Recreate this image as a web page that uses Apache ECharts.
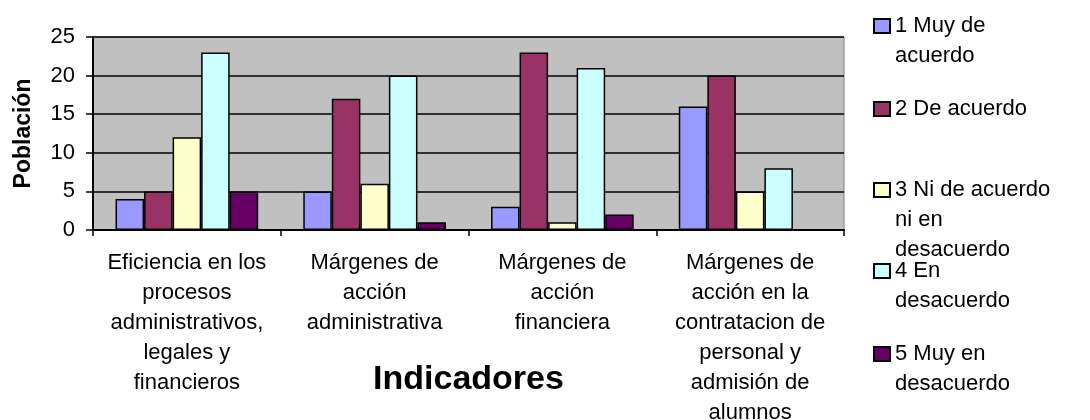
<!DOCTYPE html>
<html>
<head>
<meta charset="utf-8">
<script src="https://cdn.jsdelivr.net/npm/echarts@6/dist/echarts.min.js"></script>
<style>
  html, body { margin: 0; padding: 0; background: #fff; }
  #chart { width: 1090px; height: 420px; }
</style>
</head>
<body>
<div id="chart"></div>
<script>
// categorías (eje x)
const indicadores = [
  'Eficiencia en los\nprocesos\nadministrativos,\nlegales y\nfinancieros',
  'Márgenes de\nacción\nadministrativa',
  'Márgenes de\nacción\nfinanciera',
  'Márgenes de\nacción en la\ncontratacion de\npersonal y\nadmisión de\nalumnos'
];

// series
const seriesNames = ['1 Muy de acuerdo', '2 De acuerdo', '3 Ni de acuerdo ni en desacuerdo', '4 En desacuerdo', '5 Muy en desacuerdo'];
const legendLabels = ['1 Muy de\nacuerdo', '2 De acuerdo', '3 Ni de acuerdo\nni en\ndesacuerdo', '4 En\ndesacuerdo', '5 Muy en\ndesacuerdo'];
const muyDeAcuerdo = [4, 5, 3, 16];
const deAcuerdo = [5, 17, 23, 20];
const niNi = [12, 6, 1, 5];
const enDesacuerdo = [23, 20, 21, 8];
const muyEnDesacuerdo = [5, 1, 2, 0];
const yTicks = [0, 5, 10, 15, 20, 25];

const colors = ['#9999FF', '#993366', '#FFFFCC', '#CCFFFF', '#660066'];
const valores = [muyDeAcuerdo, deAcuerdo, niNi, enDesacuerdo, muyEnDesacuerdo];

const FONT = 'Liberation Sans, Arial, sans-serif';
const chart = echarts.init(document.getElementById('chart'));

const LINE = 30;
const ICON_W = 16;
const ICON_H = 14;
// centro del icono de cada leyenda
const legendCenters = [26, 109, 190, 271, 354];

// una leyenda por serie: el cuadro queda alineado con la primera línea del texto
const legends = seriesNames.map((name, i) => {
  const n = legendLabels[i].split('\n').length;
  const h = ICON_H + (n - 1) * LINE;
  return {
    left: 873,
    top: legendCenters[i] - LINE / 2,
    padding: 0,
    itemWidth: ICON_W,
    itemHeight: h,
    symbolKeepAspect: true,
    selectedMode: false,
    icon: 'path://M0,0H' + ICON_W + 'V' + ICON_H + 'H0Z M0,' + h,
    data: [name],
    formatter: () => legendLabels[i],
    textStyle: {
      fontFamily: FONT,
      fontSize: 22,
      color: '#000',
      lineHeight: LINE
    }
  };
});

const option = {
  animation: false,
  color: colors,
  textStyle: { fontFamily: FONT, color: '#000' },
  legend: legends,
  grid: {
    left: 93,
    right: 246,
    top: 37,
    bottom: 190,
    outerBoundsMode: 'none',
    containLabel: false,
    show: true,
    backgroundColor: '#C0C0C0',
    borderColor: '#808080',
    borderWidth: 1
  },
  xAxis: {
    type: 'category',
    data: indicadores,
    boundaryGap: true,
    name: 'Indicadores',
    nameLocation: 'middle',
    nameGap: 133,
    nameMoveOverlap: false,
    nameTextStyle: { fontSize: 34, fontWeight: 'bold', color: '#000', fontFamily: FONT },
    axisLine: { lineStyle: { color: '#000', width: 2 } },
    axisTick: { show: true, alignWithLabel: false, length: 6, lineStyle: { color: '#000', width: 1.5 } },
    axisLabel: {
      interval: 0,
      margin: 18,
      fontSize: 22,
      lineHeight: LINE,
      color: '#000'
    }
  },
  yAxis: {
    type: 'value',
    min: 0,
    max: 25,
    interval: 5,
    name: 'Población',
    nameLocation: 'middle',
    nameRotate: 90,
    nameGap: 58,
    nameMoveOverlap: false,
    nameTextStyle: { fontSize: 23, fontWeight: 'bold', color: '#000', fontFamily: FONT },
    axisLine: { show: true, lineStyle: { color: '#000', width: 2 } },
    axisTick: { show: true, length: 7, lineStyle: { color: '#000', width: 1.5 } },
    axisLabel: {
      fontSize: 22,
      margin: 18,
      color: '#000',
      formatter: v => (yTicks.includes(v) ? String(v) : '')
    },
    splitLine: { show: true, lineStyle: { color: '#000', width: 1.5 } }
  },
  series: seriesNames.map((name, i) => ({
    name: name,
    type: 'bar',
    data: valores[i],
    barGap: '0%',
    barCategoryGap: '24%',
    itemStyle: { color: colors[i], borderColor: '#000', borderWidth: 1.5 }
  }))
};

chart.setOption(option);
</script>
</body>
</html>
